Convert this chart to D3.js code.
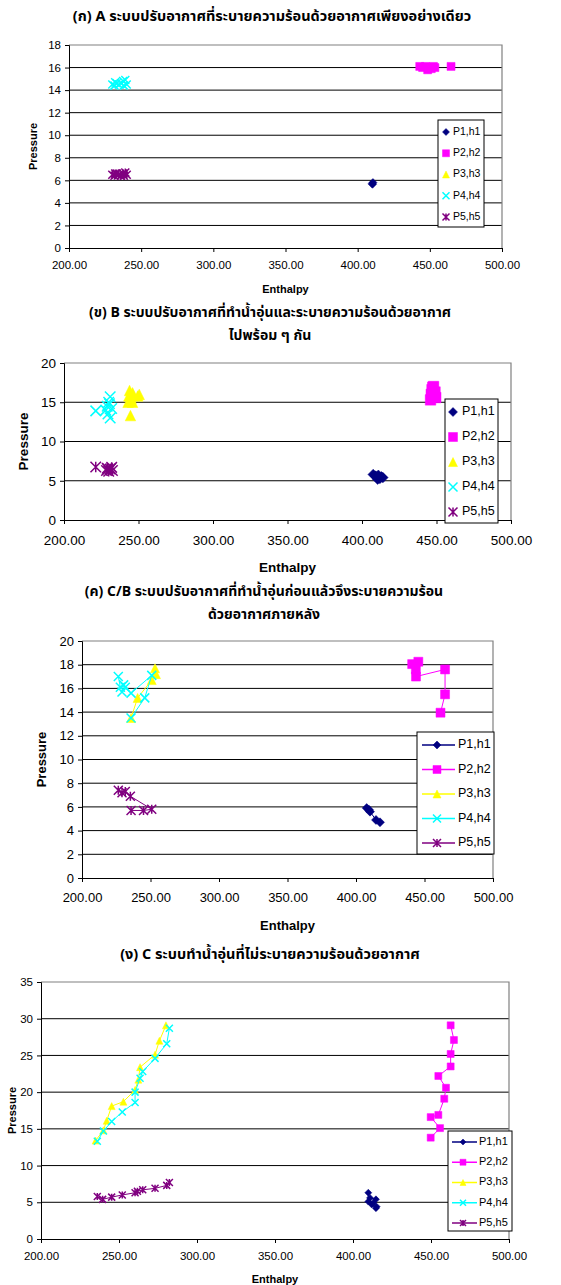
<!DOCTYPE html>
<html>
<head>
<meta charset="utf-8">
<script src="https://cdn.jsdelivr.net/npm/d3@7"></script>
<style>
  body { margin: 0; background: #fff; }
  svg { display: block; }
  text { font-family: Tahoma, "Noto Sans Thai", "Liberation Sans", Arial, sans-serif; fill: #000; }
</style>
</head>
<body>
<svg id="page" width="561" height="1285"></svg>
<script>
// series names and colours
const seriesNames = ["P1,h1", "P2,h2", "P3,h3", "P4,h4", "P5,h5"]
const seriesColors = ["#000080", "#ff00ff", "#ffff00", "#00ffff", "#800080"]
const seriesShapes = ["diamond", "square", "triangle", "x", "star"]

const xTicks = [200, 250, 300, 350, 400, 450, 500]

// (ก) A  [enthalpy, pressure]
const a_p1 = [[410, 5.7], [410.6, 5.8], [410.3, 5.65]]
const a_p2 = [[443, 16.1], [445, 16], [447, 16.1], [448.5, 15.8], [450, 16], [451, 15.9], [452.5, 16.1], [453.5, 16], [464.7, 16.1]]
const a_p3 = []
const a_p4 = [[230, 14.5], [231.5, 14.4], [233, 14.6], [234.5, 14.5], [236, 14.6], [237.5, 14.8], [239, 14.9], [240, 14.5], [232, 14.7], [238, 14.4]]
const a_p5 = [[230, 6.5], [231.5, 6.4], [233, 6.6], [234.5, 6.5], [236, 6.4], [237.5, 6.6], [239, 6.7], [240, 6.5], [232, 6.6], [238, 6.4]]

// (ข) B
const b_p1 = [[407.5, 5.8], [409, 5.6], [410, 5.5], [411, 5.7], [412, 5.3], [413, 5.5], [414, 5.4], [410.5, 5.2]]
const b_p2 = [[446, 15.3], [446.5, 16], [447, 16.6], [448, 17], [449, 16.3], [449.5, 15.6], [448, 15.8], [447.5, 16.9]]
const b_p3 = [[243, 15], [244, 16.5], [245, 15.5], [246, 15], [243.5, 15.8], [250.5, 16], [249.5, 15.8], [244.6, 13.3], [246, 16.2]]
const b_p4 = [[221.3, 13.9], [228, 14], [229, 14.5], [230, 15], [231, 15.7], [231, 13], [232, 14.2], [229.5, 13.5], [230.5, 14.8]]
const b_p5 = [[221.3, 6.75], [228.5, 6.3], [229, 6.6], [230, 6.2], [231, 6.5], [232, 6.7], [232.5, 6.3], [229.5, 6.5]]

// (ค) C/B
const cb_p1 = [[407.8, 5.9], [409.5, 5.75], [410.2, 5.6], [414.6, 4.9], [417.5, 4.7]]
const cb_p2 = [[441, 18.05], [445.5, 18.25], [443.7, 17.6], [443.8, 17], [465, 17.6], [465, 15.5], [461.7, 13.95]]
const cb_p3 = [[235.8, 13.5], [240.6, 15.2], [250.9, 16.7], [253.3, 17.7], [254, 17.2]]
const cb_p4 = [[226.5, 17], [228, 16.1], [230.4, 16.3], [229.2, 15.7], [231.6, 16.1], [235.8, 15.6], [250.9, 17.1], [245.8, 15.2], [235.8, 13.5]]
const cb_p5 = [[226.5, 7.4], [229.2, 7.2], [231.6, 7.3], [235.3, 6.9], [250.9, 5.8], [244.9, 5.7], [235.8, 5.7]]

// (ง) C
const c_p1 = [[409.8, 6.3], [409.8, 5.1], [412, 4.7], [410.9, 5.6], [414.7, 5.4], [413, 4.9], [415.2, 4.4], [414.7, 4.2]]
const c_p2 = [[462.6, 29.1], [464.7, 27.1], [462.6, 25.2], [462.6, 23.5], [454.7, 22.2], [459.6, 20.6], [458.5, 19.1], [454.7, 16.9], [449.8, 16.6], [455.8, 15.1], [449.8, 13.8]]
const c_p3 = [[235, 13.4], [240, 14.8], [242.1, 16.1], [245.3, 18.1], [252.8, 18.7], [260.3, 20.3], [262.4, 21.7], [263.5, 23.4], [273.1, 25.1], [275.9, 27], [280.1, 29.1]]
const c_p4 = [[236.1, 13.3], [240, 14.7], [245.3, 16], [252.1, 17.3], [260.3, 18.6], [260.3, 20], [263.5, 21.9], [265.2, 22.8], [273.1, 24.6], [280.6, 26.6], [282.3, 28.7]]
const c_p5 = [[236.1, 5.8], [239.5, 5.4], [245.3, 5.7], [252.1, 6], [260.3, 6.3], [261.8, 6.5], [265.2, 6.7], [273.1, 6.9], [280.6, 7.3], [282.3, 7.7]]

const charts = [
  {
    title: ["(ก) A ระบบปรับอากาศที่ระบายความร้อนด้วยอากาศเพียงอย่างเดียว"], titleX: 272, titleY: [17], titleSize: 14.5,
    left: 69, right: 502, top: 45, bottom: 248, yMax: 18, yStep: 2,
    tickSize: 11.5, labelSize: 11, xLabelY: 266, enthY: 290, presX: 34,
    legend: { x: 438, y: 120, w: 46, h: 107, first: 132, step: 21.25, font: 10.5, mx: 446, tx: 453, line: false },
    ms: 8, lmS: 7, lines: false, series: [a_p1, a_p2, a_p3, a_p4, a_p5]
  },
  {
    title: ["(ข) B ระบบปรับอากาศที่ทำน้ำอุ่นและระบายความร้อนด้วยอากาศ", "ไปพร้อม ๆ กัน"], titleX: 270, titleY: [313, 336], titleSize: 14,
    left: 64, right: 511, top: 363, bottom: 520, yMax: 20, yStep: 5,
    tickSize: 13.5, labelSize: 13.5, xLabelY: 541, enthY: 568, presX: 24,
    legend: { x: 445, y: 399, w: 53, h: 124, first: 412, step: 25, font: 12.5, mx: 453, tx: 462, line: false },
    ms: 10.5, lmS: 9, lines: false, series: [b_p1, b_p2, b_p3, b_p4, b_p5]
  },
  {
    title: ["(ค) C/B ระบบปรับอากาศที่ทำน้ำอุ่นก่อนแล้วจึงระบายความร้อน", "ด้วยอากาศภายหลัง"], titleX: 264, titleY: [592, 615], titleSize: 14,
    left: 82, right: 493, top: 641, bottom: 878, yMax: 20, yStep: 2,
    tickSize: 13, labelSize: 13, xLabelY: 899, enthY: 927, presX: 43,
    legend: { x: 417, y: 732, w: 77, h: 122, first: 745, step: 24.5, font: 12.5, mx: 437, tx: 458, lx0: 422, lx1: 455, line: true },
    ms: 9, lmS: 8, lines: true, series: [cb_p1, cb_p2, cb_p3, cb_p4, cb_p5]
  },
  {
    title: ["(ง) C ระบบทำน้ำอุ่นที่ไม่ระบายความร้อนด้วยอากาศ"], titleX: 270, titleY: [955], titleSize: 14.5,
    left: 41, right: 509, top: 982, bottom: 1239, yMax: 35, yStep: 5,
    tickSize: 11.5, labelSize: 11, xLabelY: 1257, enthY: 1280, presX: 13,
    legend: { x: 448, y: 1131, w: 64, h: 100, first: 1142, step: 20.25, font: 11, mx: 463, tx: 479, lx0: 452, lx1: 477, line: true },
    ms: 7, lmS: 6, lines: true, series: [c_p1, c_p2, c_p3, c_p4, c_p5]
  }
]

function markerPath(shape, s) {
  const h = s / 2
  if (shape === "diamond") return `M0,${-h}L${h},0L0,${h}L${-h},0Z`
  if (shape === "square") return `M${-h},${-h}H${h}V${h}H${-h}Z`
  if (shape === "triangle") return `M0,${-h}L${h},${h}L${-h},${h}Z`
  if (shape === "x") return `M${-h},${-h}L${h},${h}M${-h},${h}L${h},${-h}`
  return `M${-h},${-h}L${h},${h}M${-h},${h}L${h},${-h}M0,${-h}V${h}`
}

function drawMarker(g, i, x, y, s) {
  const shape = seriesShapes[i]
  const filled = shape === "diamond" || shape === "square" || shape === "triangle"
  g.append("path")
    .attr("transform", "translate(" + x + "," + y + ")")
    .attr("d", markerPath(shape, s))
    .attr("fill", filled ? seriesColors[i] : "none")
    .attr("stroke", seriesColors[i])
    .attr("stroke-width", filled ? 0.5 : 1.5)
}

const svg = d3.select("#page")

charts.forEach(c => {
  const g = svg.append("g")
  const x = d3.scaleLinear().domain([200, 500]).range([c.left, c.right])
  const y = d3.scaleLinear().domain([0, c.yMax]).range([c.bottom, c.top])
  const yTicks = d3.range(0, c.yMax + 0.01, c.yStep)

  // title
  c.title.forEach((t, k) => {
    g.append("text").attr("x", c.titleX).attr("y", c.titleY[k])
      .attr("text-anchor", "middle").attr("dominant-baseline", "middle")
      .style("font-weight", "bold").style("font-size", c.titleSize + "px").text(t)
  })

  // gridlines
  g.selectAll(".grid").data(yTicks.filter(v => v > 0 && v < c.yMax)).enter()
    .append("line")
    .attr("x1", c.left).attr("x2", c.right)
    .attr("y1", d => y(d)).attr("y2", d => y(d))
    .attr("stroke", "#000").attr("stroke-width", 1)

  // plot border (top / right grey)
  g.append("path")
    .attr("d", `M${c.left},${y(c.yMax)}H${c.right}V${c.bottom}`)
    .attr("fill", "none").attr("stroke", "#808080").attr("stroke-width", 1.2)

  // axes
  const yAxis = g.append("g").attr("transform", "translate(" + c.left + ",0)")
    .call(d3.axisLeft(y).tickValues(yTicks).tickSize(4).tickPadding(4))
  const xAxis = g.append("g").attr("transform", "translate(0," + c.bottom + ")")
    .call(d3.axisBottom(x).tickValues(xTicks).tickSize(4).tickFormat(d3.format(".2f")))
  ;[yAxis, xAxis].forEach(a => {
    a.select(".domain").attr("stroke", "#000")
    a.selectAll(".tick line").attr("stroke", "#000")
    a.selectAll("text").style("font-size", c.tickSize + "px")
      .style("font-family", "'Liberation Sans', Arial, sans-serif")
  })
  xAxis.selectAll(".tick text").attr("y", 0).attr("dy", 0)
    .attr("transform", "translate(0," + (c.xLabelY - c.bottom) + ")")
    .attr("dominant-baseline", "middle")

  // axis titles
  g.append("text").attr("x", (c.left + c.right) / 2).attr("y", c.enthY)
    .attr("text-anchor", "middle").attr("dominant-baseline", "middle")
    .style("font-weight", "bold").style("font-size", c.labelSize + "px")
    .style("font-family", "'Liberation Sans', Arial, sans-serif").text("Enthalpy")
  g.append("text")
    .attr("transform", "translate(" + c.presX + "," + (c.top + c.bottom) / 2 + ") rotate(-90)")
    .attr("text-anchor", "middle").attr("dominant-baseline", "middle")
    .style("font-weight", "bold").style("font-size", c.labelSize + "px")
    .style("font-family", "'Liberation Sans', Arial, sans-serif").text("Pressure")

  // series
  const line = d3.line().x(d => x(d[0])).y(d => y(d[1]))
  c.series.forEach((data, i) => {
    const sg = g.append("g")
    if (c.lines && data.length > 1) {
      sg.append("path").attr("d", line(data)).attr("fill", "none")
        .attr("stroke", seriesColors[i]).attr("stroke-width", 1)
    }
    data.forEach(d => drawMarker(sg, i, x(d[0]), y(d[1]), c.ms))
  })

  // legend
  const L = c.legend
  const lg = g.append("g")
  lg.append("rect").attr("x", L.x).attr("y", L.y).attr("width", L.w).attr("height", L.h)
    .attr("fill", "#fff").attr("stroke", "#000").attr("stroke-width", 1)
  seriesNames.forEach((name, i) => {
    const ry = L.first + i * L.step
    if (L.line) {
      lg.append("line").attr("x1", L.lx0).attr("x2", L.lx1).attr("y1", ry).attr("y2", ry)
        .attr("stroke", seriesColors[i]).attr("stroke-width", 1.5)
    }
    drawMarker(lg, i, L.mx, ry, c.lmS)
    lg.append("text").attr("x", L.tx).attr("y", ry).attr("dominant-baseline", "middle")
      .style("font-size", L.font + "px")
      .style("font-family", "'Liberation Sans', Arial, sans-serif").text(name)
  })
})
</script>
</body>
</html>
